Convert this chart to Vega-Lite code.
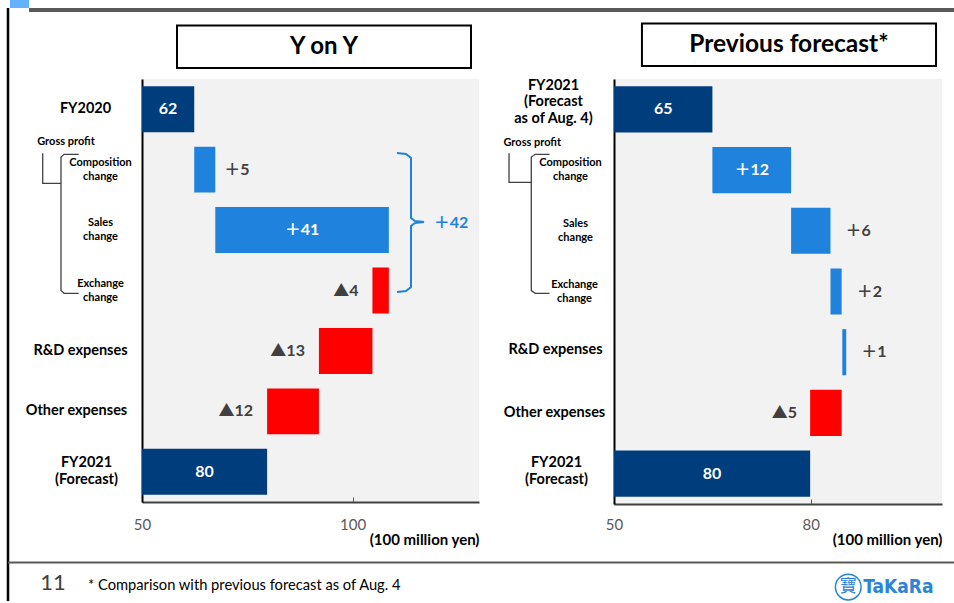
{
  "$schema": "https://vega.github.io/schema/vega-lite/v6.json",
  "padding": {"left": 6, "top": 0, "right": 0, "bottom": 0},
  "background": "white",
  "bounds": "flush",
  "spacing": 135,
  "config": {
    "font": "Lato",
    "view": {"fill": "#f2f2f2", "stroke": null}
  },
  "datasets": {
    "yoy": [
      {"item": "FY2020", "start": 0, "end": 62.4, "kind": "total", "group": ""},
      {"item": "Composition|change", "start": 62.4, "end": 67.4, "kind": "delta", "group": "gp"},
      {"item": "Sales|change", "start": 67.4, "end": 108.6, "kind": "delta", "group": "gp"},
      {"item": "Exchange|change", "start": 108.6, "end": 104.7, "kind": "delta", "group": "gp"},
      {"item": "R&D expenses", "start": 104.7, "end": 92.0, "kind": "delta", "group": ""},
      {"item": "Other expenses", "start": 92.0, "end": 79.7, "kind": "delta", "group": ""},
      {"item": "FY2021|(Forecast)", "start": 0, "end": 79.7, "kind": "total", "group": ""}
    ],
    "prev": [
      {"item": "FY2021|(Forecast|as of Aug. 4)", "start": 0, "end": 65.0, "kind": "total", "group": ""},
      {"item": "Composition|change", "start": 65.0, "end": 77.0, "kind": "delta", "group": "gp"},
      {"item": "Sales|change", "start": 77.0, "end": 83.0, "kind": "delta", "group": "gp"},
      {"item": "Exchange|change", "start": 83.0, "end": 84.7, "kind": "delta", "group": "gp"},
      {"item": "R&D expenses", "start": 84.8, "end": 85.4, "kind": "delta", "group": ""},
      {"item": "Other expenses", "start": 84.7, "end": 79.9, "kind": "delta", "group": ""},
      {"item": "FY2021|(Forecast)", "start": 0, "end": 79.9, "kind": "total", "group": ""}
    ]
  },
  "hconcat": [
    {
      "width": 337,
      "height": 423,
      "layer": [
        {
          "data": {"name": "yoy"},
          "transform": [
            {"calculate": "datum.end - datum.start", "as": "delta"},
            {"calculate": "datum.kind === 'total' ? 'total' : (datum.delta >= 0 ? 'up' : 'down')", "as": "sign"},
            {"calculate": "datum.kind === 'total' ? format(datum.end, '.0f') : (datum.delta >= 0 ? '＋' : '▲') + format(abs(datum.delta), '.0f')", "as": "lbl"},
            {"calculate": "(max(datum.start, 50) + datum.end) / 2", "as": "mid"},
            {"calculate": "max(datum.start, datum.end)", "as": "hi"},
            {"calculate": "min(datum.start, datum.end)", "as": "lo"},
            {"calculate": "datum.kind === 'total' || datum.delta >= 10", "as": "inside"}
          ],
          "encoding": {
            "y": {
              "field": "item",
              "type": "nominal",
              "sort": null,
              "scale": {"paddingInner": 0.24, "paddingOuter": 0.12},
              "axis": {
                "title": null,
                "ticks": false,
                "domainColor": "#000000",
                "domainWidth": 2,
                "labelAlign": "center",
                "labelBaseline": "middle",
                "labelPadding": 42,
                "labelFontWeight": "bold",
                "labelColor": "#000000",
                "labelFontSize": 14.5,
                "labelExpr": "split(datum.label, '|')",
                "encoding": {
                  "labels": {
                    "dx": {"value": {"expr": "datum.value === 'FY2020' ? -15 : datum.value === 'R&D expenses' ? -20 : datum.value === 'Other expenses' ? -24 : datum.value === 'FY2021|(Forecast)' ? -14 : 0"}},
                    "dy": {"value": {"expr": "indexof(datum.value, 'change') >= 0 ? -7 : datum.value === 'FY2021|(Forecast)' ? -8.5 : 0"}},
                    "fontSize": {"value": {"expr": "indexof(datum.value, 'change') >= 0 ? 11 : 14.5"}},
                    "lineHeight": {"value": {"expr": "indexof(datum.value, 'change') >= 0 ? 14 : 17"}}
                  }
                }
              }
            }
          },
          "layer": [
            {
              "mark": {"type": "bar", "clip": true},
              "encoding": {
                "x": {
                  "field": "start",
                  "type": "quantitative",
                  "scale": {"domain": [50, 130], "nice": false, "zero": false},
                  "axis": {
                    "values": [50, 100],
                    "grid": false,
                    "labelFlush": false,
                    "labelColor": "#595959",
                    "labelFontSize": 15,
                    "labelPadding": 20,
                    "tickSize": -5,
                    "tickColor": "#595959",
                    "domainColor": "#404040",
                    "domainWidth": 2,
                    "title": "(100 million yen)",
                    "titleAnchor": "end",
                    "titleFontWeight": "bold",
                    "titleFontSize": 15,
                    "titleColor": "#000000",
                    "titlePadding": 0
                  }
                },
                "x2": {"field": "end"},
                "color": {
                  "field": "sign",
                  "type": "nominal",
                  "scale": {"domain": ["total", "up", "down"], "range": ["#003d7d", "#1f82dd", "#ff0000"]},
                  "legend": null
                }
              }
            },
            {
              "transform": [{"filter": "datum.inside"}],
              "mark": {"type": "text", "color": "#ffffff", "fontWeight": "bold", "fontSize": 16, "font": "Lato, Noto Sans CJK JP"},
              "encoding": {
                "x": {"field": "mid", "type": "quantitative", "scale": {"domain": [50, 130], "nice": false, "zero": false}},
                "text": {"field": "lbl"}
              }
            },
            {
              "transform": [{"filter": "!datum.inside && datum.delta >= 0"}],
              "mark": {"type": "text", "color": "#404040", "fontWeight": "bold", "fontSize": 16, "font": "Lato, Noto Sans CJK JP", "align": "left", "dx": 9},
              "encoding": {
                "x": {"field": "hi", "type": "quantitative", "scale": {"domain": [50, 130], "nice": false, "zero": false}},
                "text": {"field": "lbl"}
              }
            },
            {
              "transform": [{"filter": "!datum.inside && datum.delta < 0"}],
              "mark": {"type": "text", "color": "#404040", "fontWeight": "bold", "fontSize": 16, "font": "Lato, Noto Sans CJK JP", "align": "right", "dx": -14},
              "encoding": {
                "x": {"field": "lo", "type": "quantitative", "scale": {"domain": [50, 130], "nice": false, "zero": false}},
                "text": {"field": "lbl"}
              }
            }
          ]
        },
        {
          "layer": [
            {
              "data": {"values": [{}]},
              "mark": {"type": "rect", "fill": "#63b1ff"},
              "encoding": {
                "x": {"datum": 18.66, "type": "quantitative", "scale": {"domain": [50, 130], "nice": false, "zero": false}, "axis": null},
                "x2": {"datum": 23.18},
                "y": {"datum": -1.307, "type": "quantitative", "scale": {"domain": [0, 7], "reverse": true, "nice": false, "zero": false}, "axis": null},
                "y2": {"datum": -1.175}
              }
            },
            {
              "data": {"values": [{}]},
              "mark": {"type": "rect", "fill": "#595959"},
              "encoding": {
                "x": {"datum": 23.18, "type": "quantitative", "scale": {"domain": [50, 130], "nice": false, "zero": false}, "axis": null},
                "x2": {"datum": 242.76},
                "y": {"datum": -1.175, "type": "quantitative", "scale": {"domain": [0, 7], "reverse": true, "nice": false, "zero": false}, "axis": null},
                "y2": {"datum": -1.109}
              }
            },
            {
              "data": {"values": [{}]},
              "mark": {"type": "rule", "color": "#000000", "strokeWidth": 2.5},
              "encoding": {
                "x": {"datum": 18.19, "type": "quantitative", "scale": {"domain": [50, 130], "nice": false, "zero": false}, "axis": null},
                "y": {"datum": -1.175, "type": "quantitative", "scale": {"domain": [0, 7], "reverse": true, "nice": false, "zero": false}, "axis": null},
                "y2": {"datum": 8.638}
              }
            },
            {
              "data": {"values": [{}]},
              "mark": {"type": "rule", "color": "#595959", "strokeWidth": 2},
              "encoding": {
                "x": {"datum": 18.19, "type": "quantitative", "scale": {"domain": [50, 130], "nice": false, "zero": false}, "axis": null},
                "x2": {"datum": 242.76},
                "y": {"datum": 8.001, "type": "quantitative", "scale": {"domain": [0, 7], "reverse": true, "nice": false, "zero": false}, "axis": null}
              }
            },
            {
              "data": {"values": [{}]},
              "mark": {"type": "rect", "fill": "#ffffff", "stroke": "#000000", "strokeWidth": 2},
              "encoding": {
                "x": {"datum": 58.31, "type": "quantitative", "scale": {"domain": [50, 130], "nice": false, "zero": false}, "axis": null},
                "x2": {"datum": 128.1},
                "y": {"datum": -0.885, "type": "quantitative", "scale": {"domain": [0, 7], "reverse": true, "nice": false, "zero": false}, "axis": null},
                "y2": {"datum": -0.182}
              }
            },
            {
              "data": {"values": [{"t": "Y on Y"}]},
              "mark": {"type": "text", "fontSize": 24, "fontWeight": "bold", "color": "#000000"},
              "encoding": {
                "x": {"datum": 93.2, "type": "quantitative", "scale": {"domain": [50, 130], "nice": false, "zero": false}, "axis": null},
                "y": {"datum": -0.536, "type": "quantitative", "scale": {"domain": [0, 7], "reverse": true, "nice": false, "zero": false}, "axis": null},
                "text": {"field": "t"}
              }
            },
            {
              "data": {"values": [{"t": "Gross profit"}]},
              "mark": {"type": "text", "fontSize": 11, "fontWeight": "bold", "color": "#000000"},
              "encoding": {
                "x": {"datum": 31.96, "type": "quantitative", "scale": {"domain": [50, 130], "nice": false, "zero": false}, "axis": null},
                "y": {"datum": 1.0425, "type": "quantitative", "scale": {"domain": [0, 7], "reverse": true, "nice": false, "zero": false}, "axis": null},
                "text": {"field": "t"}
              }
            },
            {
              "data": {"values": [
                {"path": "link", "i": 0, "bx": 26.43, "by": 1.2295},
                {"path": "link", "i": 1, "bx": 26.43, "by": 1.726},
                {"path": "link", "i": 2, "bx": 30.77, "by": 1.726},
                {"path": "bracket", "i": 0, "bx": 34.97, "by": 1.246},
                {"path": "bracket", "i": 1, "bx": 31.5, "by": 1.246},
                {"path": "bracket", "i": 2, "bx": 30.77, "by": 1.29},
                {"path": "bracket", "i": 3, "bx": 30.77, "by": 3.5},
                {"path": "bracket", "i": 4, "bx": 31.5, "by": 3.546},
                {"path": "bracket", "i": 5, "bx": 34.97, "by": 3.546}
              ]},
              "mark": {"type": "line", "color": "#404040", "strokeWidth": 1.3},
              "encoding": {
                "x": {"field": "bx", "type": "quantitative", "scale": {"domain": [50, 130], "nice": false, "zero": false}, "axis": null},
                "y": {"field": "by", "type": "quantitative", "scale": {"domain": [0, 7], "reverse": true, "nice": false, "zero": false}, "axis": null},
                "detail": {"field": "path"},
                "order": {"field": "i"}
              }
            },
            {
              "data": {"values": [
                {"i": 0, "bx": 110.53, "by": 1.2245},
                {"i": 1, "bx": 112.67, "by": 1.241},
                {"i": 2, "bx": 113.86, "by": 1.307},
                {"i": 3, "bx": 113.86, "by": 2.3},
                {"i": 4, "bx": 114.81, "by": 2.35},
                {"i": 5, "bx": 116.94, "by": 2.367},
                {"i": 6, "bx": 114.81, "by": 2.383},
                {"i": 7, "bx": 113.86, "by": 2.433},
                {"i": 8, "bx": 113.86, "by": 3.442},
                {"i": 9, "bx": 112.67, "by": 3.508},
                {"i": 10, "bx": 110.53, "by": 3.525}
              ]},
              "mark": {"type": "line", "color": "#1f82dd", "strokeWidth": 2},
              "encoding": {
                "x": {"field": "bx", "type": "quantitative", "scale": {"domain": [50, 130], "nice": false, "zero": false}, "axis": null},
                "y": {"field": "by", "type": "quantitative", "scale": {"domain": [0, 7], "reverse": true, "nice": false, "zero": false}, "axis": null},
                "order": {"field": "i"}
              }
            },
            {
              "data": {"name": "yoy"},
              "transform": [
                {"filter": "datum.group === 'gp'"},
                {"calculate": "datum.end - datum.start", "as": "delta"},
                {"aggregate": [{"op": "sum", "field": "delta", "as": "total"}]},
                {"calculate": "'＋' + format(datum.total, '.0f')", "as": "lbl"}
              ],
              "mark": {"type": "text", "fontSize": 16, "fontWeight": "bold", "font": "Lato, Noto Sans CJK JP", "color": "#1f82dd"},
              "encoding": {
                "x": {"datum": 123.35, "type": "quantitative", "scale": {"domain": [50, 130], "nice": false, "zero": false}, "axis": null},
                "y": {"datum": 2.383, "type": "quantitative", "scale": {"domain": [0, 7], "reverse": true, "nice": false, "zero": false}, "axis": null},
                "text": {"field": "lbl"}
              }
            },
            {
              "data": {"values": [{"t": "11"}]},
              "mark": {"type": "text", "fontSize": 22, "color": "#404040"},
              "encoding": {
                "x": {"datum": 28.87, "type": "quantitative", "scale": {"domain": [50, 130], "nice": false, "zero": false}, "axis": null},
                "y": {"datum": 8.34, "type": "quantitative", "scale": {"domain": [0, 7], "reverse": true, "nice": false, "zero": false}, "axis": null},
                "text": {"field": "t"}
              }
            },
            {
              "data": {"values": [{"t": "* Comparison with previous forecast as of Aug. 4"}]},
              "mark": {"type": "text", "fontSize": 14.7, "color": "#000000", "align": "left"},
              "encoding": {
                "x": {"datum": 37.18, "type": "quantitative", "scale": {"domain": [50, 130], "nice": false, "zero": false}, "axis": null},
                "y": {"datum": 8.39, "type": "quantitative", "scale": {"domain": [0, 7], "reverse": true, "nice": false, "zero": false}, "axis": null},
                "text": {"field": "t"}
              }
            }
          ]
        }
      ],
      "resolve": {"scale": {"x": "independent", "y": "independent"}}
    },
    {
      "width": 328,
      "height": 425,
      "layer": [
        {
          "data": {"name": "prev"},
          "transform": [
            {"calculate": "datum.end - datum.start", "as": "delta"},
            {"calculate": "datum.kind === 'total' ? 'total' : (datum.delta >= 0 ? 'up' : 'down')", "as": "sign"},
            {"calculate": "datum.kind === 'total' ? format(datum.end, '.0f') : (datum.delta >= 0 ? '＋' : '▲') + format(abs(datum.delta), '.0f')", "as": "lbl"},
            {"calculate": "(max(datum.start, 50) + datum.end) / 2", "as": "mid"},
            {"calculate": "max(datum.start, datum.end)", "as": "hi"},
            {"calculate": "min(datum.start, datum.end)", "as": "lo"},
            {"calculate": "datum.kind === 'total' || datum.delta >= 10", "as": "inside"}
          ],
          "encoding": {
            "y": {
              "field": "item",
              "type": "nominal",
              "sort": null,
              "scale": {"paddingInner": 0.24, "paddingOuter": 0.12},
              "axis": {
                "title": null,
                "ticks": false,
                "domainColor": "#000000",
                "domainWidth": 2,
                "labelAlign": "center",
                "labelBaseline": "middle",
                "labelPadding": 44,
                "labelFontWeight": "bold",
                "labelColor": "#000000",
                "labelFontSize": 14.5,
                "labelExpr": "split(datum.label, '|')",
                "encoding": {
                  "labels": {
                    "dx": {"value": {"expr": "datum.value === 'Sales|change' ? 5 : datum.value === 'Exchange|change' ? 4 : datum.value === 'R&D expenses' ? -15 : datum.value === 'Other expenses' ? -16 : indexof(datum.value, 'Aug') > 0 ? -17 : indexof(datum.value, 'FY2021') === 0 ? -14 : 0"}},
                    "dy": {"value": {"expr": "indexof(datum.value, 'Aug') > 0 ? -23.5 : indexof(datum.value, 'change') >= 0 ? -7 : datum.value === 'FY2021|(Forecast)' ? -10.5 : datum.value === 'R&D expenses' ? -2 : 0"}},
                    "fontSize": {"value": {"expr": "indexof(datum.value, 'change') >= 0 ? 11 : 14.5"}},
                    "lineHeight": {"value": {"expr": "indexof(datum.value, 'change') >= 0 ? 14 : 16.5"}}
                  }
                }
              }
            }
          },
          "layer": [
            {
              "mark": {"type": "bar", "clip": true},
              "encoding": {
                "x": {
                  "field": "start",
                  "type": "quantitative",
                  "scale": {"domain": [50, 100], "nice": false, "zero": false},
                  "axis": {
                    "values": [50, 80],
                    "grid": false,
                    "labelFlush": false,
                    "labelColor": "#595959",
                    "labelFontSize": 15,
                    "labelPadding": 18,
                    "tickSize": -5,
                    "tickColor": "#595959",
                    "domainColor": "#404040",
                    "domainWidth": 2,
                    "title": "(100 million yen)",
                    "titleAnchor": "end",
                    "titleFontWeight": "bold",
                    "titleFontSize": 15,
                    "titleColor": "#000000",
                    "titlePadding": 0
                  }
                },
                "x2": {"field": "end"},
                "color": {
                  "field": "sign",
                  "type": "nominal",
                  "scale": {"domain": ["total", "up", "down"], "range": ["#003d7d", "#1f82dd", "#ff0000"]},
                  "legend": null
                }
              }
            },
            {
              "transform": [{"filter": "datum.inside"}],
              "mark": {"type": "text", "color": "#ffffff", "fontWeight": "bold", "fontSize": 16, "font": "Lato, Noto Sans CJK JP"},
              "encoding": {
                "x": {"field": "mid", "type": "quantitative", "scale": {"domain": [50, 100], "nice": false, "zero": false}},
                "text": {"field": "lbl"}
              }
            },
            {
              "transform": [{"filter": "!datum.inside && datum.delta >= 0"}],
              "mark": {"type": "text", "color": "#404040", "fontWeight": "bold", "fontSize": 16, "font": "Lato, Noto Sans CJK JP", "align": "left", "dx": 15},
              "encoding": {
                "x": {"field": "hi", "type": "quantitative", "scale": {"domain": [50, 100], "nice": false, "zero": false}},
                "text": {"field": "lbl"}
              }
            },
            {
              "transform": [{"filter": "!datum.inside && datum.delta < 0"}],
              "mark": {"type": "text", "color": "#404040", "fontWeight": "bold", "fontSize": 16, "font": "Lato, Noto Sans CJK JP", "align": "right", "dx": -13},
              "encoding": {
                "x": {"field": "lo", "type": "quantitative", "scale": {"domain": [50, 100], "nice": false, "zero": false}},
                "text": {"field": "lbl"}
              }
            }
          ]
        },
        {
          "layer": [
            {
              "data": {"values": [{}]},
              "mark": {"type": "rect", "fill": "#ffffff", "stroke": "#000000", "strokeWidth": 2},
              "encoding": {
                "x": {"datum": 54.26, "type": "quantitative", "scale": {"domain": [50, 100], "nice": false, "zero": false}, "axis": null},
                "x2": {"datum": 99.09},
                "y": {"datum": -0.914, "type": "quantitative", "scale": {"domain": [0, 7], "reverse": true, "nice": false, "zero": false}, "axis": null},
                "y2": {"datum": -0.214}
              }
            },
            {
              "data": {"values": [{"t": "Previous forecast*"}]},
              "mark": {"type": "text", "fontSize": 24.5, "fontWeight": "bold", "color": "#000000"},
              "encoding": {
                "x": {"datum": 76.67, "type": "quantitative", "scale": {"domain": [50, 100], "nice": false, "zero": false}, "axis": null},
                "y": {"datum": -0.56, "type": "quantitative", "scale": {"domain": [0, 7], "reverse": true, "nice": false, "zero": false}, "axis": null},
                "text": {"field": "t"}
              }
            },
            {
              "data": {"values": [{"t": "Gross profit"}]},
              "mark": {"type": "text", "fontSize": 11, "fontWeight": "bold", "color": "#000000"},
              "encoding": {
                "x": {"datum": 37.54, "type": "quantitative", "scale": {"domain": [50, 100], "nice": false, "zero": false}, "axis": null},
                "y": {"datum": 1.054, "type": "quantitative", "scale": {"domain": [0, 7], "reverse": true, "nice": false, "zero": false}, "axis": null},
                "text": {"field": "t"}
              }
            },
            {
              "data": {"values": [
                {"path": "link", "i": 0, "bx": 34.0, "by": 1.224},
                {"path": "link", "i": 1, "bx": 34.0, "by": 1.702},
                {"path": "link", "i": 2, "bx": 37.39, "by": 1.702},
                {"path": "bracket", "i": 0, "bx": 40.17, "by": 1.24},
                {"path": "bracket", "i": 1, "bx": 38.0, "by": 1.24},
                {"path": "bracket", "i": 2, "bx": 37.39, "by": 1.285},
                {"path": "bracket", "i": 3, "bx": 37.39, "by": 3.485},
                {"path": "bracket", "i": 4, "bx": 38.0, "by": 3.53},
                {"path": "bracket", "i": 5, "bx": 40.17, "by": 3.53}
              ]},
              "mark": {"type": "line", "color": "#404040", "strokeWidth": 1.3},
              "encoding": {
                "x": {"field": "bx", "type": "quantitative", "scale": {"domain": [50, 100], "nice": false, "zero": false}, "axis": null},
                "y": {"field": "by", "type": "quantitative", "scale": {"domain": [0, 7], "reverse": true, "nice": false, "zero": false}, "axis": null},
                "detail": {"field": "path"},
                "order": {"field": "i"}
              }
            },
            {
              "data": {"values": [{}]},
              "mark": {"type": "point", "shape": "circle", "size": 660, "filled": false, "fill": "#ffffff", "stroke": "#2b84d8", "strokeWidth": 1.5, "opacity": 1},
              "encoding": {
                "x": {"datum": 85.71, "type": "quantitative", "scale": {"domain": [50, 100], "nice": false, "zero": false}, "axis": null},
                "y": {"datum": 8.368, "type": "quantitative", "scale": {"domain": [0, 7], "reverse": true, "nice": false, "zero": false}, "axis": null}
              }
            },
            {
              "data": {"values": [{"t": "寶"}]},
              "mark": {"type": "text", "fontSize": 17, "font": "Noto Sans CJK TC", "color": "#2b84d8"},
              "encoding": {
                "x": {"datum": 85.71, "type": "quantitative", "scale": {"domain": [50, 100], "nice": false, "zero": false}, "axis": null},
                "y": {"datum": 8.368, "type": "quantitative", "scale": {"domain": [0, 7], "reverse": true, "nice": false, "zero": false}, "axis": null},
                "text": {"field": "t"}
              }
            },
            {
              "data": {"values": [{"t": "TaKaRa"}]},
              "mark": {"type": "text", "fontSize": 19, "fontWeight": "bold", "font": "DejaVu Sans Condensed, Liberation Sans Narrow, Roboto", "color": "#2b84d8", "align": "left", "dx": -1},
              "encoding": {
                "x": {"datum": 88.15, "type": "quantitative", "scale": {"domain": [50, 100], "nice": false, "zero": false}, "axis": null},
                "y": {"datum": 8.368, "type": "quantitative", "scale": {"domain": [0, 7], "reverse": true, "nice": false, "zero": false}, "axis": null},
                "text": {"field": "t"}
              }
            }
          ]
        }
      ],
      "resolve": {"scale": {"x": "independent", "y": "independent"}}
    }
  ],
  "resolve": {"scale": {"x": "independent", "y": "independent", "color": "independent"}}
}
